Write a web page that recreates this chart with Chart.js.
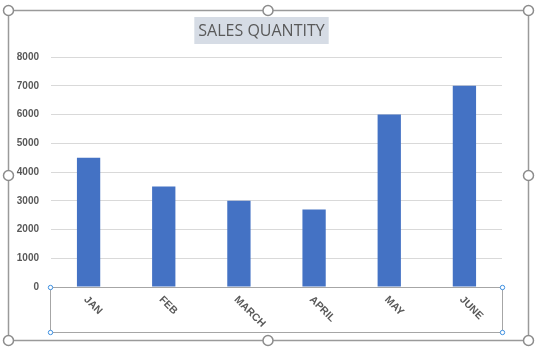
<!DOCTYPE html>
<html lang="en">
<head>
  <meta charset="UTF-8">
  <title>Sales Quantity</title>
  <script src="https://cdn.jsdelivr.net/npm/chart.js"></script>
  <style>
    body {
      margin: 0;
      background-color: #ffffff;
    }
    #wrap {
      width: 536px;
      height: 351px;
    }
  </style>
</head>
<body>
<div id="wrap"><canvas id="salesChart" width="536" height="351"></canvas></div>
<script>
const months = ['JAN', 'FEB', 'MARCH', 'APRIL', 'MAY', 'JUNE'];
const quantities = [4500, 3500, 3000, 2700, 6000, 7000];
const yTicks = [0, 1000, 2000, 3000, 4000, 5000, 6000, 7000, 8000];
const chartTitle = 'SALES QUANTITY';

// frame, handles, title box and rotated month labels
const excelLook = {
  id: 'excelLook',
  afterDraw(chart) {
    const ctx = chart.ctx;
    const x = chart.scales.x;
    const area = chart.chartArea;

    // month labels, rotated down to the right like Excel
    ctx.save();
    ctx.fillStyle = '#595959';
    ctx.font = 'bold 10.5px "Liberation Sans", Arial, sans-serif';
    ctx.textAlign = 'left';
    ctx.textBaseline = 'middle';
    months.forEach((m, i) => {
      const px = x.getPixelForValue(i);
      ctx.save();
      ctx.translate(px - 3, area.bottom + 11);
      ctx.rotate(Math.PI / 4);
      ctx.fillText(m, 0, 0);
      ctx.restore();
    });
    ctx.restore();

    // title with grey highlight
    ctx.save();
    ctx.font = '16px "Open Sans", sans-serif';
    const tw = ctx.measureText(chartTitle).width;
    const cx = 261.5;
    ctx.fillStyle = '#d6dce5';
    ctx.fillRect(cx - tw / 2 - 4, 17, tw + 8, 27);
    ctx.fillStyle = '#595959';
    ctx.textAlign = 'center';
    ctx.textBaseline = 'middle';
    ctx.fillText(chartTitle, cx, 31);
    ctx.restore();

    // axis-label selection box
    ctx.save();
    ctx.strokeStyle = '#a6a6a6';
    ctx.lineWidth = 1;
    ctx.strokeRect(area.left - 0.5, area.bottom + 0.5, area.right - area.left + 1, 45);
    const blue = [[area.left - 0.5, area.bottom + 0.5], [area.right + 0.5, area.bottom + 0.5],
                  [area.left - 0.5, area.bottom + 45.5], [area.right + 0.5, area.bottom + 45.5]];
    ctx.fillStyle = '#ffffff';
    ctx.strokeStyle = '#3d8fe0';
    blue.forEach(p => {
      ctx.beginPath();
      ctx.arc(p[0], p[1], 2.2, 0, Math.PI * 2);
      ctx.fill();
      ctx.stroke();
    });
    ctx.restore();

    // outer chart frame with handles
    ctx.save();
    ctx.strokeStyle = '#9a9a9a';
    ctx.lineWidth = 1.5;
    ctx.strokeRect(8.5, 10.5, 520, 330);
    const handles = [[8.5, 10.5], [268, 10.5], [528.5, 10.5], [8.5, 175.5], [528.5, 175.5],
                     [8.5, 340.5], [268, 340.5], [528.5, 340.5]];
    ctx.fillStyle = '#ffffff';
    ctx.strokeStyle = '#8c8c8c';
    handles.forEach(p => {
      ctx.beginPath();
      ctx.arc(p[0], p[1], 5, 0, Math.PI * 2);
      ctx.fill();
      ctx.stroke();
    });
    ctx.restore();
  }
};

new Chart(document.getElementById('salesChart'), {
  type: 'bar',
  data: {
    labels: months,
    datasets: [{
      label: chartTitle,
      data: quantities,
      backgroundColor: '#4472c4',
      categoryPercentage: 1,
      barPercentage: 0.31
    }]
  },
  options: {
    responsive: false,
    animation: false,
    layout: { padding: { top: 57, right: 34, bottom: 0, left: 0 } },
    plugins: {
      legend: { display: false },
      tooltip: { enabled: false }
    },
    scales: {
      x: {
        ticks: { display: false },
        grid: { display: false, drawTicks: false },
        border: { display: true, color: '#a6a6a6', width: 1 },
        afterFit(scale) { scale.height = 64; }
      },
      y: {
        min: 0,
        max: 8000,
        afterBuildTicks(scale) { scale.ticks = yTicks.map(v => ({ value: v })); },
        ticks: {
          color: '#595959',
          padding: 12,
          font: { family: '"Liberation Sans", Arial, sans-serif', size: 10, weight: 'bold' },
          callback: v => String(v)
        },
        grid: { color: '#d9d9d9', drawTicks: false },
        border: { display: false },
        afterFit(scale) { scale.width = 51; }
      }
    }
  },
  plugins: [excelLook]
});
</script>
</body>
</html>
